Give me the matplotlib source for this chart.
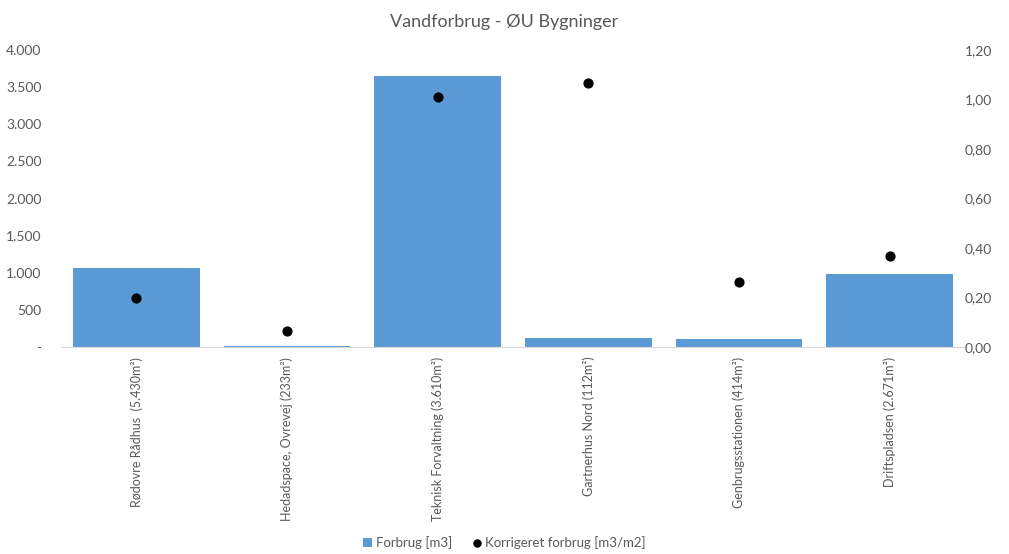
import numpy as np
import matplotlib.pyplot as plt
from matplotlib.ticker import FuncFormatter

plt.rcParams["font.family"] = ["Lato", "DejaVu Sans"]

buildings = [
    "Rødovre Rådhus  (5.430m²)",
    "Hedadspace, Ovrevej (233m²)",
    "Teknisk Forvaltning (3.610m²)",
    "Gartnerhus Nord (112m²)",
    "Genbrugsstationen (414m²)",
    "Driftspladsen (2.671m²)",
]
forbrug = [1070, 15, 3655, 115, 105, 985]  # m3
korrigeret = [0.198, 0.066, 1.012, 1.065, 0.263, 0.369]  # m3/m2

blue = "#5B9BD5"
grey_txt = "#595959"

fig = plt.figure(figsize=(10.09, 5.54), dpi=100)
ax = fig.add_axes([61 / 1009, 1 - 347 / 554, 904 / 1009, 297 / 554])
ax2 = ax.twinx()

x = np.arange(len(buildings))
ax.bar(x, forbrug, width=0.84, color=blue, label="Forbrug [m3]", zorder=2)
ax2.scatter(x, korrigeret, s=40, color="black", label="Korrigeret forbrug [m3/m2]", zorder=3)

ax.set_xlim(-0.5, len(buildings) - 0.5)
ax.set_ylim(0, 4000)
ax.set_yticks(np.arange(0, 4001, 500))
ax.yaxis.set_major_formatter(FuncFormatter(
    lambda v, p: "-" if v == 0 else f"{int(v):,}".replace(",", ".")))
ax2.set_ylim(0, 1.2)
ax2.set_yticks(np.arange(0, 1.21, 0.2))
ax2.yaxis.set_major_formatter(FuncFormatter(lambda v, p: f"{v:.2f}".replace(".", ",")))

ax.set_xticks(x)
ax.set_xticklabels(buildings, rotation=90, color=grey_txt)

for a in (ax, ax2):
    for s in a.spines.values():
        s.set_visible(False)
    a.tick_params(length=0, labelsize=10, labelcolor=grey_txt)
ax.spines["bottom"].set_visible(True)
ax.spines["bottom"].set_color("#D9D9D9")
ax.tick_params(axis="y", pad=14)
ax.tick_params(axis="x", pad=7, labelsize=9)
ax2.tick_params(axis="y", pad=0)

fig.suptitle("Vandforbrug - ØU Bygninger", y=0.975, fontsize=13, color=grey_txt)

h1, l1 = ax.get_legend_handles_labels()
h2, l2 = ax2.get_legend_handles_labels()
fig.legend(h1 + h2, l1 + l2, loc="lower center", bbox_to_anchor=(0.5, -0.012), ncol=2,
           frameon=False, fontsize=9.5, labelcolor=grey_txt, handlelength=0.7,
           handletextpad=0.3, columnspacing=1.5, markerscale=0.8)

fig.savefig("out.png", dpi=100)
